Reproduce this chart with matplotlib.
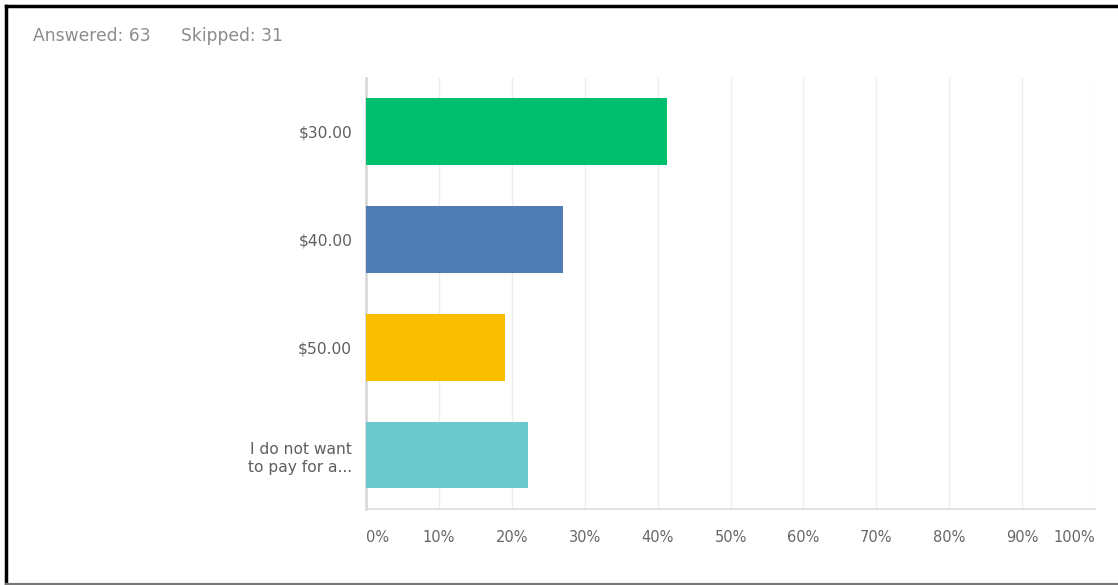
import matplotlib
matplotlib.use("Agg")
import matplotlib.pyplot as plt
from matplotlib.lines import Line2D

# Survey data
categories = ["$30.00", "$40.00", "$50.00", "I do not want\nto pay for a..."]
percents = [41.27, 26.98, 19.05, 22.22]
colors = ["#00BF6F", "#507CB6", "#F9BE00", "#6BC8CD"]
answered = 63
skipped = 31
xticks = [0, 10, 20, 30, 40, 50, 60, 70, 80, 90, 100]
xtick_labels = ["0%", "10%", "20%", "30%", "40%", "50%", "60%", "70%", "80%", "90%", "100%"]

plt.rcParams["font.family"] = ["DejaVu Sans"]

fig = plt.figure(figsize=(11.18, 5.85), dpi=100)
ax = fig.add_axes([0.3274, 0.130, 0.652, 0.7367])

y = list(range(len(categories)))
ax.barh(y, percents, height=0.62, color=colors, zorder=3)

ax.set_ylim(3.5, -0.5)
ax.set_xlim(0, 100)
ax.set_yticks(y)
ax.set_yticklabels(categories, fontsize=11.2, color="#5f5f5f", linespacing=1.25)
ax.set_xticks(xticks)
ax.set_xticklabels(xtick_labels, fontsize=10.5, color="#666666")
labels = ax.get_xticklabels()
labels[0].set_horizontalalignment("left")
labels[-1].set_horizontalalignment("right")
ax.tick_params(axis="both", length=0)
ax.tick_params(axis="y", pad=10)
ax.tick_params(axis="x", pad=15)

ax.grid(axis="x", color="#ededed", linewidth=1, zorder=0)
for side in ["top", "right"]:
    ax.spines[side].set_visible(False)
ax.spines["left"].set_color("#d9d9d9")
ax.spines["left"].set_linewidth(2)
ax.spines["bottom"].set_color("#dddddd")
ax.spines["bottom"].set_linewidth(1.2)

fig.text(33 / 1118, 1 - 36 / 585, f"Answered: {answered}", fontsize=12.3, color="#8c8c8c", va="center")
fig.text(181 / 1118, 1 - 36 / 585, f"Skipped: {skipped}", fontsize=12.3, color="#8c8c8c", va="center")

# screenshot frame
fig.add_artist(Line2D([6 / 1118, 1], [1 - 5.5 / 585, 1 - 5.5 / 585], color="black", linewidth=2.5, transform=fig.transFigure))
fig.add_artist(Line2D([6 / 1118, 6 / 1118], [1 - 5.5 / 585, 1.5 / 585], color="black", linewidth=2.5, transform=fig.transFigure))
fig.add_artist(Line2D([6 / 1118, 1], [1.5 / 585, 1.5 / 585], color="#777777", linewidth=1.5, transform=fig.transFigure))

fig.savefig("out.png", dpi=100)
